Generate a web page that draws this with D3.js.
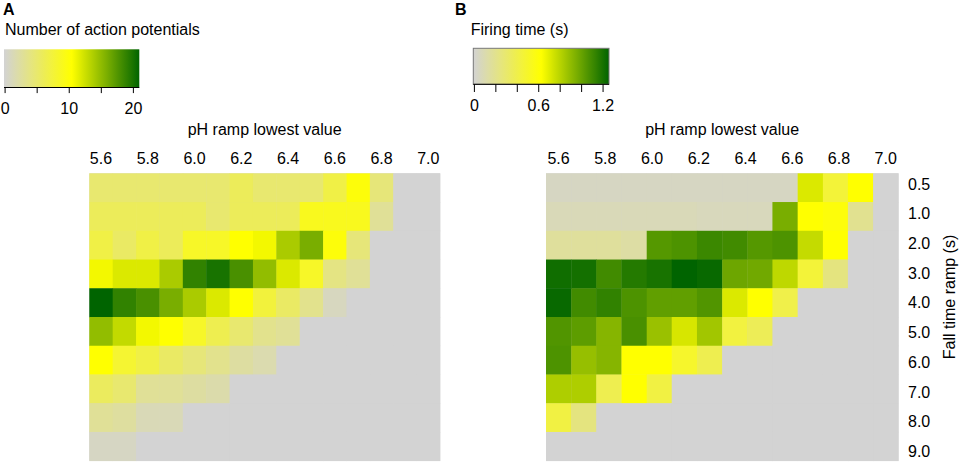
<!DOCTYPE html>
<html><head><meta charset="utf-8">
<script src="https://cdn.jsdelivr.net/npm/d3@7"></script>
<style>
body{margin:0;background:#fff;}
text{font-family:"Liberation Sans",Arial,Helvetica,sans-serif;fill:#000;}
</style>
</head><body>
<svg id="chart" width="960" height="463"></svg>
<script>
// ---------- data ----------
const fallTimes = ["0.5","1.0","2.0","3.0","4.0","5.0","6.0","7.0","8.0","9.0"];
const phColsA = [5.6,5.7,5.8,5.9,6.0,6.1,6.2,6.3,6.4,6.5,6.6,6.7,6.8,6.9,7.0];
const phColsB = [5.6,5.708,5.815,5.923,6.031,6.138,6.246,6.354,6.462,6.569,6.677,6.785,6.892,7.0];
const phTicks = [5.6,5.8,6.0,6.2,6.4,6.6,6.8,7.0];

// Panel A: number of action potentials (rows = fall time, cols = pH)
const apCount = [
  [5,5,5,5,5,5,6,5,5,5,7,10,4.5,0,0],
  [6,6,6,6,6,5,6,6,6,9,9,9,3,0,0],
  [7,5.5,7,6,8.5,8.5,10.5,11,14,16,10,4.5,0,0,0],
  [11,12,12,14,19,20,18,15,12,8.5,4,3,0,0,0],
  [21,19,18,16,14,12,10.5,7.5,5.5,3.5,1,0,0,0,0],
  [15,13,11,10.5,8.5,6.5,5,3.5,3,0,0,0,0,0,0],
  [10.5,8,7,5.5,4.5,3.5,2.5,1.8,0,0,0,0,0,0,0],
  [5.8,5,3,3,2.5,2,0,0,0,0,0,0,0,0,0],
  [3,2.6,1.4,1.4,0,0,0,0,0,0,0,0,0,0,0],
  [0.8,0.8,0,0,0,0,0,0,0,0,0,0,0,0,0]
];
// Panel B: firing time (s)
const firingTime = [
  [0.05,0.05,0.05,0.05,0.05,0.05,0.05,0.05,0.05,0.05,0.72,0.46,0.63,0],
  [0.08,0.08,0.08,0.08,0.08,0.08,0.07,0.07,0.07,0.96,0.63,0.6,0.2,0],
  [0.165,0.165,0.165,0.14,1.05,1.07,1.115,1.1,1.05,1.07,0.775,0.63,0,0],
  [1.22,1.21,1.1,1.17,1.2,1.26,1.24,0.99,0.98,0.79,0.46,0.25,0,0],
  [1.24,1.1,1.14,1.07,1.02,1.02,1.06,0.72,0.63,0.41,0,0,0,0],
  [1.06,1.03,0.93,1.08,0.88,0.73,0.86,0.44,0.37,0,0,0,0,0],
  [1.07,0.89,0.93,0.63,0.63,0.5,0.39,0,0,0,0,0,0,0],
  [0.83,0.83,0.39,0.63,0.43,0,0,0,0,0,0,0,0,0],
  [0.43,0.25,0,0,0,0,0,0,0,0,0,0,0,0],
  [0,0,0,0,0,0,0,0,0,0,0,0,0,0]
];
const legendTicksA = [0,5,10,15,20];
const legendLabelsA = [0,10,20];
const legendTicksB = [0,0.2,0.4,0.6,0.8,1.0,1.2];
const legendLabelsB = [0,0.6,1.2];
const maxA = 21, maxB = 1.26;

// ---------- drawing ----------
const svg = d3.select("#chart");
const FS = 16;
const gridTop = 173.3, gridBottom = 460.7;

const colorA = d3.scaleLinear().domain([0, maxA/2, maxA]).range(["#d3d3d3","#ffff00","#006400"]).interpolate(d3.interpolateRgb);
const colorB = d3.scaleLinear().domain([0, maxB/2, maxB]).range(["#d3d3d3","#ffff00","#006400"]).interpolate(d3.interpolateRgb);

const yBand = d3.scaleBand().domain(fallTimes).range([gridTop, gridBottom]);

function heatmap(cols, values, x0, x1, color) {
  const step = (cols[cols.length-1]-cols[0])/(cols.length-1);
  const x = d3.scaleLinear().domain([cols[0]-step/2, cols[cols.length-1]+step/2]).range([x0, x1]);
  const cw = x(cols[0]+step/2) - x(cols[0]-step/2);
  const g = svg.append("g");
  g.append("rect").attr("x", x0).attr("y", gridTop).attr("width", x1-x0).attr("height", gridBottom-gridTop).attr("fill", "#d3d3d3");
  const cells = [];
  values.forEach((row, i) => row.forEach((v, j) => cells.push({r: fallTimes[i], c: cols[j], v})));
  g.selectAll("rect.cell").data(cells).join("rect").attr("class","cell")
    .attr("x", d => x(d.c) - cw/2)
    .attr("y", d => yBand(d.r))
    .attr("width", cw + 0.4)
    .attr("height", yBand.bandwidth() + 0.4)
    .attr("fill", d => color(d.v));
  // x tick labels
  g.selectAll("text.xt").data(phTicks).join("text").attr("class","xt")
    .attr("x", d => x(d)).attr("y", 163.5)
    .attr("text-anchor","middle").attr("font-size", FS)
    .text(d => d.toFixed(1));
  g.append("text").attr("x", (x0+x1)/2).attr("y", 135).attr("text-anchor","middle")
    .attr("font-size", FS).text("pH ramp lowest value");
  return x;
}

heatmap(phColsA, apCount, 89.3, 440, colorA);
heatmap(phColsB, firingTime, 546, 898.3, colorB);

// row labels (panel B)
const yLab = d3.scalePoint().domain(fallTimes).range([183.8, 451.2]);
svg.selectAll("text.yl").data(fallTimes).join("text").attr("class","yl")
  .attr("x", 908).attr("y", d => yLab(d)).attr("dy","0.36em")
  .attr("font-size", FS).text(d => d);
svg.append("text").attr("transform","translate(955,297) rotate(-90)")
  .attr("text-anchor","middle").attr("font-size", FS).text("Fall time ramp (s)");

// legends
const defs = svg.append("defs");
function legend(id, color, max, bx0, bx1, by0, by1, ticks, labels, tickLen, fmt, border) {
  const grad = defs.append("linearGradient").attr("id", id).attr("x1","0%").attr("x2","100%");
  d3.range(0, 21).forEach(k => {
    grad.append("stop").attr("offset", (k*5)+"%").attr("stop-color", color(max*k/20));
  });
  svg.append("rect").attr("x", bx0).attr("y", by0).attr("width", bx1-bx0).attr("height", by1-by0)
    .attr("fill", `url(#${id})`).attr("stroke", border ? "#777" : "none").attr("stroke-width", 1);
  const s = d3.scaleLinear().domain([0, max]).range([bx0 + 0.6, bx1]);
  const ax = d3.axisBottom(s).tickValues(ticks).tickSize(tickLen).tickSizeOuter(0)
    .tickPadding(26 - tickLen - 11)
    .tickFormat(d => labels.some(l => Math.abs(l - d) < 1e-9) ? fmt(d) : "");
  const g = svg.append("g").attr("transform", `translate(0,${by1})`).call(ax);
  g.select(".domain").attr("stroke","#000").attr("d", `M${bx0},0H${bx1}`);
  g.selectAll(".tick line").attr("stroke","#000");
  g.selectAll(".tick text").attr("font-size", FS).attr("fill","#000")
    .attr("font-family", '"Liberation Sans",Arial,sans-serif');
}
legend("gA", colorA, maxA, 4, 139.3, 49.3, 87.5, legendTicksA, legendLabelsA, 5.6, d => String(d), false);
legend("gB", colorB, maxB, 473.3, 609, 48.3, 84.3, legendTicksB, legendLabelsB, 7.7, d => d === 0 ? "0" : d.toFixed(1), true);

// titles
svg.append("text").attr("x", 3).attr("y", 14.5).attr("font-size", 16).attr("font-weight","bold").text("A");
svg.append("text").attr("x", 455).attr("y", 14.5).attr("font-size", 16).attr("font-weight","bold").text("B");
svg.append("text").attr("x", 5).attr("y", 34.5).attr("font-size", FS).text("Number of action potentials");
svg.append("text").attr("x", 470.7).attr("y", 35).attr("font-size", FS).text("Firing time (s)");
</script>
</body></html>
